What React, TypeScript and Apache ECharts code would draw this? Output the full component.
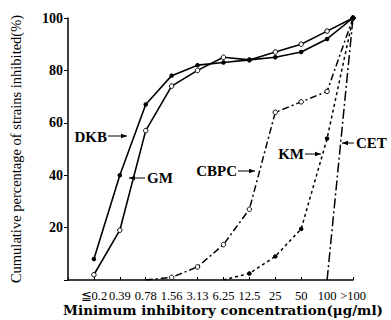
import React, { useEffect, useRef } from "react";
import * as echarts from "echarts";

const categories = ["≦0.2", "0.39", "0.78", "1.56", "3.13", "6.25", "12.5", "25", "50", "100", ">100"];
const yTicks = [20, 40, 60, 80, 100];

const dkb = [8, 40, 67, 78, 82, 83, 84, 85, 87, 92, 100];
const gm = [2, 19, 57, 74, 80, 85, 84, 87, 90, 95, 100];
// CBPC starts at 0.78 (value 0, no marker)
const cbpc: (number | null)[] = [null, null, 0, 1, 5, 13.5, 27, 64, 68, 72, 100];
// KM starts at 6.25 (value 0, no marker)
const km: (number | null)[] = [null, null, null, null, null, 0, 2.5, 9, 19.5, 54, 100];
// CET: 100 -> 0, >100 -> 100
const cet: (number | null)[] = [null, null, null, null, null, null, null, null, null, 0, 100];

const FONT = "'Liberation Serif', 'Times New Roman', serif";

function toPairs(vals: (number | null)[], noSymbolIdx: number[] = []) {
  const out: any[] = [];
  vals.forEach((v, i) => {
    if (v === null) return;
    if (noSymbolIdx.includes(i)) out.push({ value: [i + 1, v], symbol: "none" });
    else out.push([i + 1, v]);
  });
  return out;
}

function arrow(x1: number, x2: number, y: number, dir: "left" | "right") {
  const tip = dir === "right" ? x2 : x1;
  const s = dir === "right" ? -1 : 1;
  return [
    { type: "line", shape: { x1, y1: y, x2, y2: y }, style: { stroke: "#000", lineWidth: 1 } },
    {
      type: "polygon",
      shape: { points: [[tip, y], [tip + s * 6, y - 2.2], [tip + s * 6, y + 2.2]] },
      style: { fill: "#000" },
    },
  ];
}

function label(text: string, x: number, y: number, align: "left" | "right") {
  return {
    type: "text",
    x,
    y,
    style: { text, fill: "#000", font: `bold 15px ${FONT}`, align, verticalAlign: "middle" },
  };
}

export default function App() {
  const ref = useRef<HTMLDivElement>(null);
  useEffect(() => {
    if (!ref.current) return;
    const chart = echarts.init(ref.current, null, { renderer: "svg" });
    const solid = { color: "#000", width: 1.6, type: "solid" as const };
    chart.setOption({
      animation: false,
      backgroundColor: "#fff",
      grid: { left: 59, right: 38, top: 18, bottom: 40 },
      xAxis: {
        type: "value",
        min: 0,
        max: 11,
        interval: 1,
        axisLine: { show: true, lineStyle: { color: "#000", width: 1.5 } },
        axisTick: { show: true, inside: true, length: 3, lineStyle: { color: "#000" } },
        splitLine: { show: false },
        axisLabel: {
          color: "#000",
          fontFamily: FONT,
          fontSize: 12.5,
          margin: 9,
          formatter: (v: number) => (v >= 1 && v <= 11 ? categories[v - 1] : ""),
        },
      },
      yAxis: {
        type: "value",
        min: 0,
        max: 100,
        interval: 20,
        name: "Cumulative percentage of strains inhibited(%)",
        nameLocation: "middle",
        nameGap: 45,
        nameTextStyle: { color: "#000", fontFamily: FONT, fontSize: 14.5 },
        axisLine: { show: true, lineStyle: { color: "#000", width: 1.5 } },
        axisTick: { show: true, length: 4, lineStyle: { color: "#000" } },
        splitLine: { show: false },
        axisLabel: {
          color: "#000",
          fontFamily: FONT,
          fontSize: 14,
          fontWeight: "bold",
          margin: 5,
          formatter: (v: number) => (yTicks.includes(v) ? String(v) : ""),
        },
      },
      series: [
        {
          name: "CET",
          type: "line",
          data: toPairs(cet),
          symbol: "none",
          lineStyle: { color: "#000", width: 1.5, type: [10, 3, 2, 3] },
        },
        {
          name: "KM",
          type: "line",
          data: toPairs(km, [5]),
          symbol: "circle",
          symbolSize: 4.5,
          itemStyle: { color: "#000" },
          lineStyle: { color: "#000", width: 1.5, type: [3, 3] },
        },
        {
          name: "CBPC",
          type: "line",
          data: toPairs(cbpc, [2]),
          symbol: "circle",
          symbolSize: 4.5,
          itemStyle: { color: "#fff", borderColor: "#000", borderWidth: 1 },
          lineStyle: { color: "#000", width: 1.5, type: [7, 3, 2, 3] },
        },
        {
          name: "GM",
          type: "line",
          data: toPairs(gm),
          symbol: "circle",
          symbolSize: 4.5,
          itemStyle: { color: "#fff", borderColor: "#000", borderWidth: 1 },
          lineStyle: solid,
        },
        {
          name: "DKB",
          type: "line",
          data: toPairs(dkb),
          symbol: "circle",
          symbolSize: 4.5,
          itemStyle: { color: "#000" },
          lineStyle: solid,
        },
      ],
      graphic: [
        label("DKB", 107, 137, "right"),
        ...arrow(108, 127, 136, "right"),
        ...arrow(129, 145, 178, "left"),
        label("GM", 147, 178, "left"),
        label("CBPC", 237, 171, "right"),
        ...arrow(238, 255, 171, "right"),
        label("KM", 304, 154, "right"),
        ...arrow(305, 321, 154, "right"),
        ...arrow(342, 354, 143, "left"),
        label("CET", 356, 143, "left"),
        {
          type: "text",
          x: 223,
          y: 310,
          style: {
            text: "Minimum inhibitory concentration(μg/ml)",
            fill: "#000",
            font: `bold 13.5px 'DejaVu Serif', serif`,
            align: "center",
            verticalAlign: "middle",
          },
        },
      ],
    });
    return () => chart.dispose();
  }, []);
  return <div ref={ref} style={{ width: 391, height: 320, position: "absolute", left: 0, top: 0 }} />;
}
